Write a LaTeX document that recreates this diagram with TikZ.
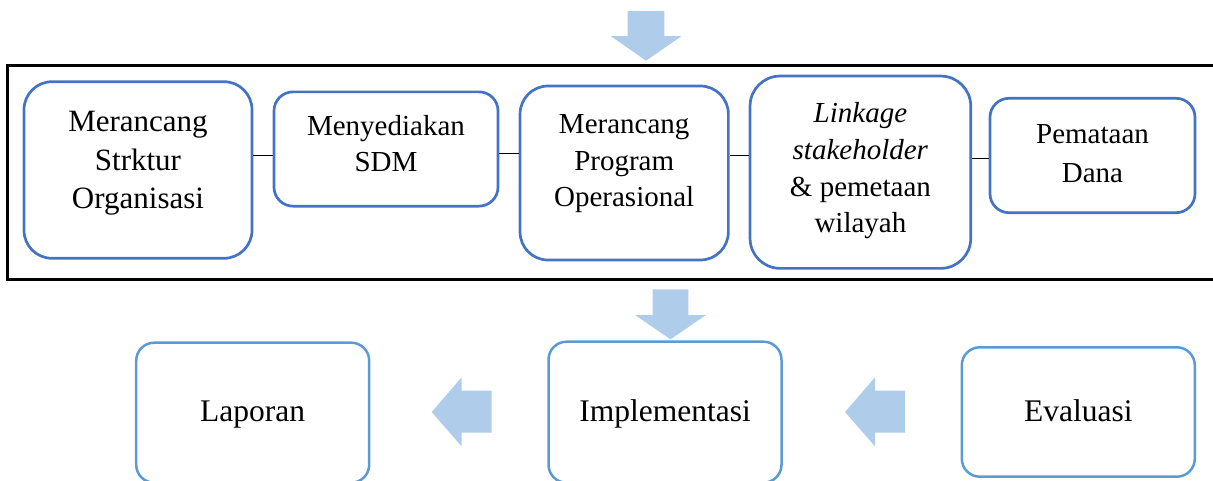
\documentclass[tikz,border=0pt]{standalone}
\usepackage{fontspec}
\setmainfont{Liberation Serif}
\usepackage{xcolor}
\usepackage{tikz}
\usetikzlibrary{calc}

\definecolor{boxblue}{HTML}{4472C4}
\definecolor{lightblue}{HTML}{5B9BD5}
\definecolor{arrowblue}{RGB}{175,205,234}

\begin{document}
\begin{tikzpicture}[x=1pt,y=-1pt]
\tikzstyle{main}=[rectangle, draw=boxblue, line width=2.7pt, inner sep=0pt]
\tikzstyle{low}=[rectangle, draw=lightblue, line width=2.5pt, inner sep=0pt, rounded corners=18pt,
    minimum width=233pt, text height=24pt, text depth=5.6pt, font=\fontsize{31.5}{38}\selectfont]
\tikzstyle{txt}=[align=center, inner sep=0pt]
\tikzstyle{big}=[font=\fontsize{31}{38.5}\selectfont]
\tikzstyle{mid}=[font=\fontsize{29}{36.7}\selectfont]
\tikzstyle{arr}=[fill=arrowblue]
\useasboundingbox (0,0) rectangle (1213,480);

% frame round the preparation steps
\node[draw=black, line width=3pt, minimum width=1208.7pt, minimum height=213.8pt] (grp) at (611.65,172.5) {};

\node[main, rounded corners=28pt, minimum width=228pt, minimum height=176.6pt] (b1) at (138,170) {};
\node[main, rounded corners=19pt, minimum width=224pt, minimum height=114.3pt] (b2) at (386,149) {};
\node[main, rounded corners=28pt, minimum width=208.3pt, minimum height=174pt] (b3) at (624.2,173) {};
\node[main, rounded corners=30pt, minimum width=220.7pt, minimum height=192.3pt] (b4) at (860.4,172.2) {};
\node[main, rounded corners=19pt, minimum width=205pt, minimum height=114.4pt] (b5) at (1092.5,155.5) {};

\node[txt, big] (t1) at (138,163.2) {Merancang\\Strktur\\Organisasi};
\node[txt, mid] (t2) at (386,143.5) {Menyediakan\\SDM};
\node[txt, mid] (t3) at (624.2,163.6) {Merancang\\Program\\Operasional};
\node[txt, mid] (t4) at (860.4,170.8) {\textit{Linkage}\\\textit{stakeholder}\\\& pemetaan\\wilayah};
\node[txt, font=\fontsize{29}{38.7}\selectfont] (t5) at (1092.5,153.7) {Pemataan\\Dana};

\node[low, minimum height=140pt] (lap) at (252.7,412.7) {Laporan};
\node[low, minimum height=141pt] (imp) at (665,412.2) {Implementasi};
\node[low, minimum height=129.4pt] (eva) at (1078.3,412) {Evaluasi};

\foreach \a/\b/\y in {1/2/155.7,2/3/153.3,3/4/155.7,4/5/158.3}
       {
        \coordinate (m\a) at (0,\y);
        \draw[line width=1.3pt] (b\a.east |- m\a) -- (b\b.west |- m\a);
       }

% block arrows
\fill[arr] (627.7,11) -- (664.3,11) -- (664.3,36) -- (681.7,36) -- (646,60.7)
    -- (610.7,36) -- (627.7,36) -- cycle;
\fill[arr] (652.7,289.3) -- (688.3,289.3) -- (688.3,315) -- (706,315) -- (670.5,339.3)
    -- (635,315) -- (652.7,315) -- cycle;
\foreach \x in {431.7,845}
    \fill[arr] (\x+60,390.7) -- (\x+60,432.7) -- (\x+30,432.7) -- (\x+30,446.5)
        -- (\x,412) -- (\x+30,377.3) -- (\x+30,390.7) -- cycle;
\end{tikzpicture}
\end{document}
